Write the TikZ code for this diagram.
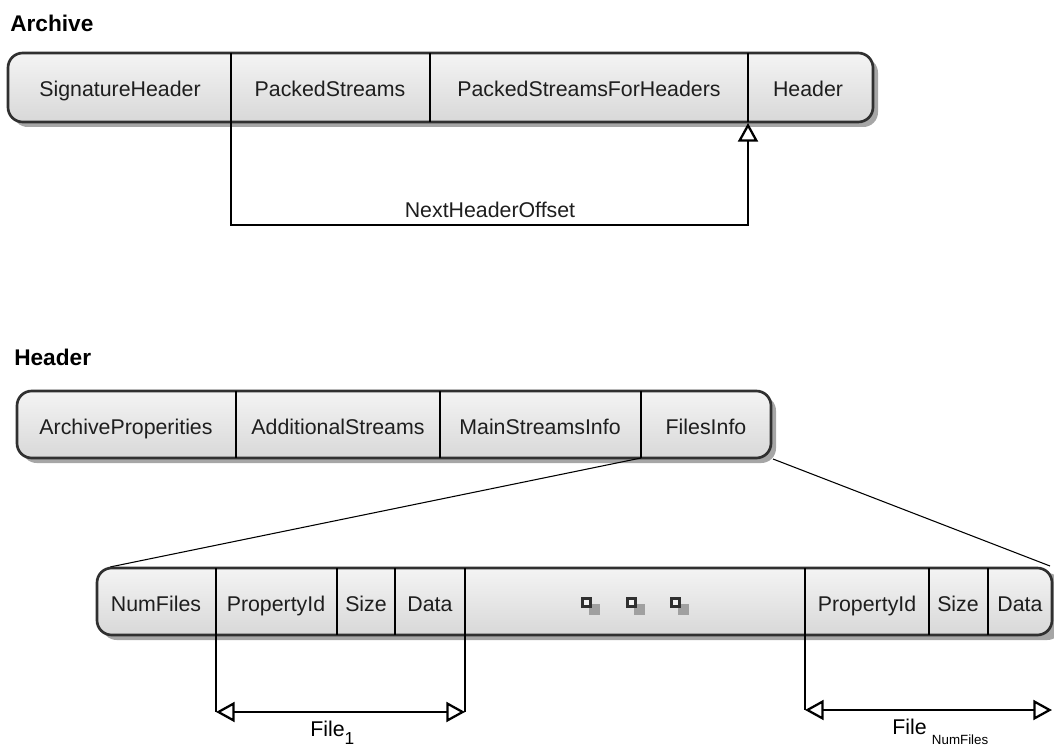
\documentclass[tikz,border=0pt]{standalone}
\usepackage{fontspec}
\setmainfont{Liberation Sans}
\usetikzlibrary{arrows.meta}
\definecolor{edgec}{HTML}{303030}
\definecolor{textc}{HTML}{1E1E1E}
\definecolor{barTop}{HTML}{F4F4F4}
\definecolor{barBot}{HTML}{D8D8D8}
\definecolor{shadec}{HTML}{A6A6A6}
\definecolor{dotc}{HTML}{A0A0A0}
\begin{document}
\begin{tikzpicture}[x=0.75pt,y=-0.75pt,
  bar/.style={rounded corners=11pt, draw=edgec, line width=2pt, top color=barTop, bottom color=barBot},
  barshadow/.style={rounded corners=11pt, fill=shadec},
  divider/.style={line width=1.7pt, draw=black},
  link/.style={line width=1.7pt, draw=black},
  otip/.tip={Triangle[open,length=14pt,width=15pt,line width=1.7pt]},
  opentip/.style={-otip},
  bothtips/.style={otip-otip},
  fan/.style={line width=0.8pt, draw=black},
  cell/.style={anchor=base, inner sep=0pt, text=textc, font=\fontsize{16}{19}\selectfont},
  title/.style={anchor=base west, inner sep=0pt, text=black, font=\bfseries\fontsize{17}{20}\selectfont},
  note/.style={anchor=base west, inner sep=0pt, text=black, font=\fontsize{16}{19}\selectfont},
  dotframe/.style={draw=edgec, line width=2.2pt, fill=barTop},
  dotshade/.style={fill=dotc}
]
\useasboundingbox (0,0) rectangle (1054,749);

% ---------- Archive ----------
\node[title] (tArchive) at (10,32) {Archive};

\fill[barshadow] (13,58) rectangle (878,127);
\path[bar] (8,53) rectangle (873,122);
\foreach \x in {231,430,748} \draw[divider] (\x,53) -- (\x,122);

\node[cell] (sig)  at (120,97) {SignatureHeader};
\node[cell] (ps)   at (330,97) {PackedStreams};
\node[cell] (psfh) at (589,97) {PackedStreamsForHeaders};
\node[cell] (hdr)  at (808,97) {Header};

\coordinate (psFoot) at (231,122);
\coordinate (turn)   at (231,225);
\coordinate (hdrFoot) at (748,123);
\draw[link, opentip] (psFoot) -- (turn) -| (hdrFoot);
\node[cell] (nho) at (490,217) {NextHeaderOffset};

% ---------- Header ----------
\node[title] (tHeader) at (14,365) {Header};

\fill[barshadow] (22,396) rectangle (776,463);
\path[bar] (17,391) rectangle (771,458);
\foreach \x in {236,440,641} \draw[divider] (\x,391) -- (\x,458);

\node[cell] (ap)  at (126,434) {ArchiveProperities};
\node[cell] (as)  at (338,434) {AdditionalStreams};
\node[cell] (msi) at (540,434) {MainStreamsInfo};
\node[cell] (fi)  at (706,434) {FilesInfo};

% ---------- FilesInfo expanded ----------
\coordinate (fiLeft)  at (641,458);
\coordinate (fiRight) at (773,459);
\coordinate (rowLeft)  at (110,567);
\coordinate (rowRight) at (1050,566);
\draw[fan] (fiLeft) -- (rowLeft);
\draw[fan] (fiRight) -- (rowRight);

\fill[barshadow] (102,573) rectangle (1062,640);
\path[bar] (97,568) rectangle (1052,635);
\foreach \x in {337,395,929,988} \draw[divider] (\x,568) -- (\x,635);

% dividers that run on into the file brackets
\coordinate (f1a) at (216,712);
\coordinate (f1b) at (465,712);
\coordinate (fna) at (805,710);
\coordinate (fnb) at (1052,710);
\draw[divider] (216,568) -- (f1a);
\draw[divider] (465,568) -- (f1b);
\draw[divider] (805,568) -- (fna);

\node[cell] (nf)  at (156,611) {NumFiles};
\node[cell] (pid1) at (276,611) {PropertyId};
\node[cell] (sz1)  at (366,611) {Size};
\node[cell] (dt1)  at (430,611) {Data};
\node[cell] (pidn) at (867,611) {PropertyId};
\node[cell] (szn)  at (958,611) {Size};
\node[cell] (dtn)  at (1020,611) {Data};

% ellipsis marks
\foreach \x in {581,626,670} {
  \fill[dotshade] (\x+8,604) rectangle (\x+19,615);
  \draw[dotframe] (\x+1.5,598.5) rectangle (\x+9.5,606.5);
}

% file brackets
\draw[link, bothtips] (f1a) -- (f1b);
\draw[link, bothtips] (fna) -- (fnb);
\node[note] (file1) at (310,736) {File\raisebox{-6pt}{\fontsize{13}{13}\selectfont 1}};
\node[note] (fileN) at (892,734) {File\hspace{4pt}\raisebox{-7.5pt}{\fontsize{10}{10}\selectfont NumFiles}};
\end{tikzpicture}
\end{document}
